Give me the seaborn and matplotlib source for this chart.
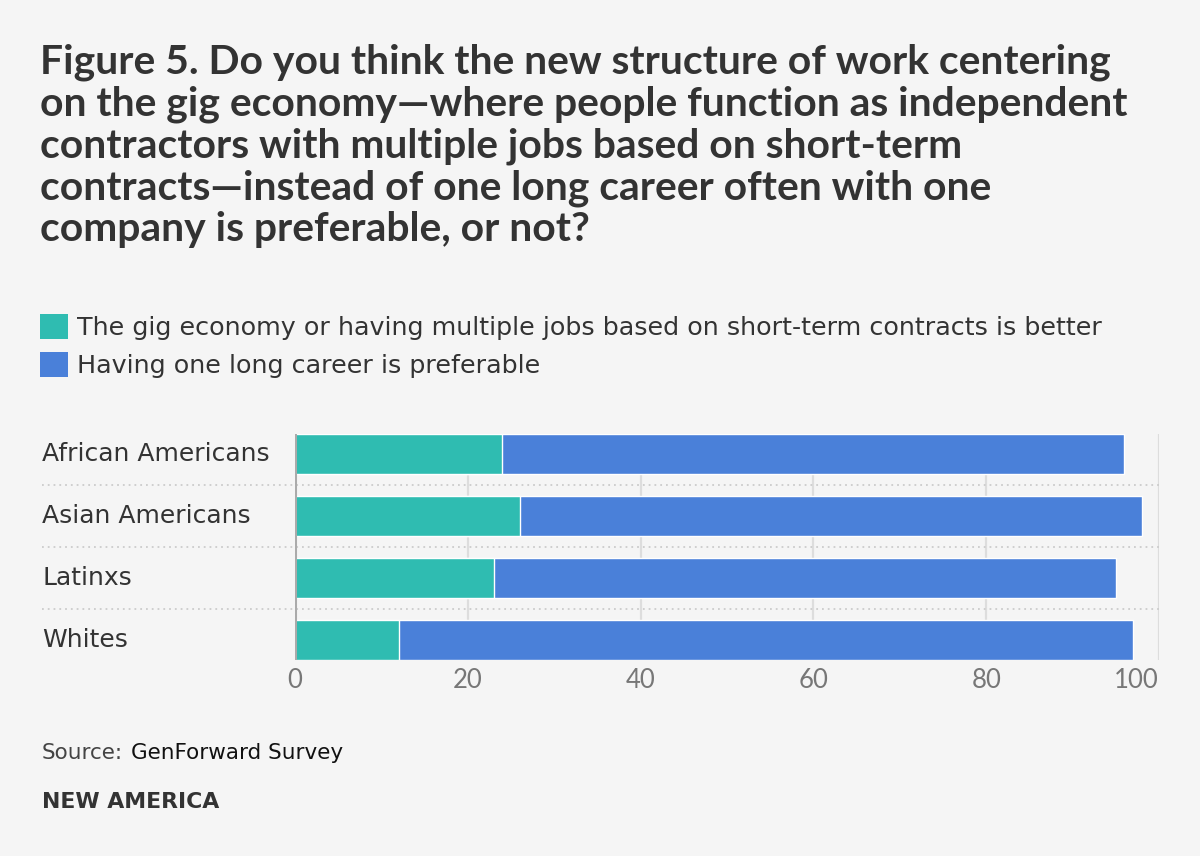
import matplotlib
matplotlib.use("Agg")
import matplotlib.pyplot as plt
import matplotlib.transforms as mtransforms
from matplotlib.patches import Patch
import seaborn as sns
import pandas as pd

categories = ["African Americans", "Asian Americans", "Latinxs", "Whites"]
gig_better = [24, 26, 23, 12]
one_career = [72, 72, 72, 85]
series_names = [
    "The gig economy or having multiple jobs based on short-term contracts is better",
    "Having one long career is preferable",
]
x_ticks = [0, 20, 40, 60, 80, 100]
title_lines = [
    "Figure 5. Do you think the new structure of work centering",
    "on the gig economy\u2014where people function as independent",
    "contractors with multiple jobs based on short-term",
    "contracts\u2014instead of one long career often with one",
    "company is preferable, or not?",
]

TEAL = "#2fbcb1"
BLUE = "#4a80d9"
BG = "#f5f5f5"
DARK = "#333333"
BODY = ["DejaVu Sans"]

sns.set_theme(style="white")
plt.rcParams["font.family"] = ["Lato", "DejaVu Sans"]

df = pd.DataFrame({
    "cat": categories,
    "gig": gig_better,
    "career": one_career,
})
df["total"] = df["gig"] + df["career"]

fig = plt.figure(figsize=(12, 8.56), dpi=100, facecolor=BG)
ax = fig.add_axes([295 / 1200, 1 - 660 / 856, 864 / 1200, 226 / 856])
ax.set_facecolor(BG)

h = 0.645
sns.barplot(data=df, x="total", y="cat", color=BLUE, width=h, ax=ax,
            saturation=1, zorder=3, orient="h")
sns.barplot(data=df, x="gig", y="cat", color=TEAL, width=h, ax=ax,
            saturation=1, zorder=4, orient="h")

ax.set_xlim(0, 100)
ax.set_ylim(len(categories) - 1 + h / 2, -h / 2)
ax.set_xlabel("")
ax.set_ylabel("")
for s in ax.spines.values():
    s.set_visible(False)

# vertical grid
for t in x_ticks[1:]:
    ax.axvline(t, color="#dddddd", lw=1.6, zorder=1)
ax.axvline(0, color="#aaaaaa", lw=2.2, zorder=5)

# dotted separators
for i in range(len(categories) - 1):
    ax.axhline(i + 0.5, xmin=(42 - 295) / 864, xmax=1, color="#cccccc",
               lw=1.3, ls=(0, (1, 2.2)), clip_on=False, zorder=2)

ax.set_xticks(x_ticks)
ax.set_xticklabels([str(t) for t in x_ticks], fontsize=18.5, color="#777777")
ax.get_xticklabels()[-1].set_ha("right")
ax.tick_params(axis="x", length=0, pad=6)
ax.set_yticks([])

trans = mtransforms.blended_transform_factory(fig.transFigure, ax.transData)
for i, c in enumerate(categories):
    ax.text(42 / 1200, i, c, transform=trans, ha="left", va="center",
            fontsize=18, color=DARK, family=BODY)

# title
for k, line in enumerate(title_lines):
    fig.text(40 / 1200, 1 - (62 + 42 * k) / 856, line, ha="left", va="center",
             fontsize=29.4, fontweight="bold", color=DARK)

# legend
handles = [Patch(facecolor=TEAL, edgecolor="none"), Patch(facecolor=BLUE, edgecolor="none")]
fig.legend(handles, series_names, loc="upper left",
           bbox_to_anchor=(40 / 1200, 1 - 314 / 856), frameon=False,
           prop={"family": BODY, "size": 18.3}, handlelength=1.12, handleheight=1.12,
           handletextpad=0.35, labelspacing=0.48, borderpad=0,
           borderaxespad=0, labelcolor=DARK)

# source
fig.text(42 / 1200, 1 - 753 / 856, "Source:", ha="left", va="center",
         fontsize=15.5, color="#444444", family=BODY)
fig.text(131 / 1200, 1 - 753 / 856, "GenForward Survey", ha="left", va="center",
         fontsize=15.5, color="#111111", family=BODY)
fig.text(42 / 1200, 1 - 802 / 856, "NEW AMERICA", ha="left", va="center",
         fontsize=15.8, fontweight="bold", color=DARK, family=BODY)

fig.savefig("out.png", dpi=100, facecolor=BG)
